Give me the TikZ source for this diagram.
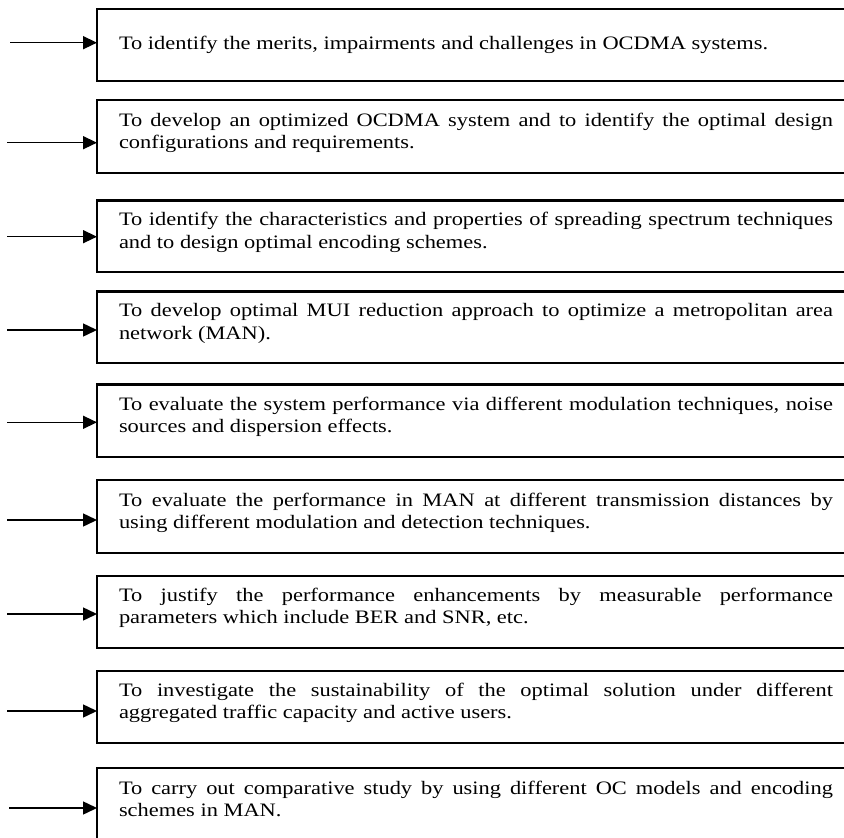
\documentclass[tikz,border=0pt]{standalone}
\usepackage{fontspec}
\setmainfont{Liberation Serif}[FakeStretch=1.18]
\usetikzlibrary{arrows.meta}
% width of the text block inside each objective box
\newlength\objwidth
\setlength\objwidth{714pt}
% a first line set flush to both margins (spaces taken from the font, so they stretch)
\newcommand\spreadline[1]{\makebox[\objwidth][s]{\spaceskip=0pt\xspaceskip=0pt #1}}
\begin{document}
\begin{tikzpicture}[x=1pt,y=-1pt,
  objbox/.style={draw, line width=2.2pt, rectangle, anchor=north west,
    outer sep=0pt, text width=\objwidth, align=justify,
    inner xsep=22pt, inner ysep=4pt,
    font=\fontsize{19}{22.3}\selectfont},
  twoline/.style={objbox, text depth=34pt},
  feed/.style={line width=1.5pt, -{Triangle[length=14pt,width=13pt]}}]
\useasboundingbox (0,0) rectangle (844,838);
\fill[white] (0,0) rectangle (844,838);

% objective boxes (they run on past the right edge)
\node[objbox, minimum height=72pt] (b1) at (97,9)
  {To identify the merits, impairments and challenges in OCDMA systems.};
\node[twoline, minimum height=73pt] (b2) at (97,100)
  {\spreadline{To develop an optimized OCDMA system and to identify the optimal design}\\
   configurations and requirements.};
\node[twoline, minimum height=71.5pt] (b3) at (97,200.5)
  {\spreadline{To identify the characteristics and properties of spreading spectrum techniques}\\
   and to design optimal encoding schemes.};
\node[twoline, minimum height=71.5pt] (b4) at (97,291.5)
  {\spreadline{To develop optimal MUI reduction approach to optimize a metropolitan area}\\
   network (MAN).};
\node[twoline, minimum height=72.5pt] (b5) at (97,384.5)
  {\spreadline{To evaluate the system performance via different modulation techniques, noise}\\
   sources and dispersion effects.};
\node[twoline, minimum height=73pt] (b6) at (97,480)
  {\spreadline{To evaluate the performance in MAN at different transmission distances by}\\
   using different modulation and detection techniques.};
\node[twoline, minimum height=72pt] (b7) at (97,576)
  {\spreadline{To justify the performance enhancements by measurable performance}\\
   parameters which include BER and SNR, etc.};
\node[twoline, minimum height=72pt] (b8) at (97,671)
  {\spreadline{To investigate the sustainability of the optimal solution under different}\\
   aggregated traffic capacity and active users.};
\node[objbox, text height=22pt, text depth=60pt] (b9) at (97,768)
  {\spreadline{To carry out comparative study by using different OC models and encoding}\\
   schemes in MAN.};

% feeding arrows
\coordinate (s1) at (10,42.7);
\coordinate (s2) at (7,142.7);
\coordinate (s3) at (7,236.7);
\coordinate (s4) at (7,330);
\coordinate (s5) at (7,422.3);
\coordinate (s6) at (7,520);
\coordinate (s7) at (7,614);
\coordinate (s8) at (7,711);
\coordinate (s9) at (9,808);
\foreach \i in {1,...,9}
  \draw[feed] (s\i) -- (s\i -| b\i.west);
\end{tikzpicture}
\end{document}
